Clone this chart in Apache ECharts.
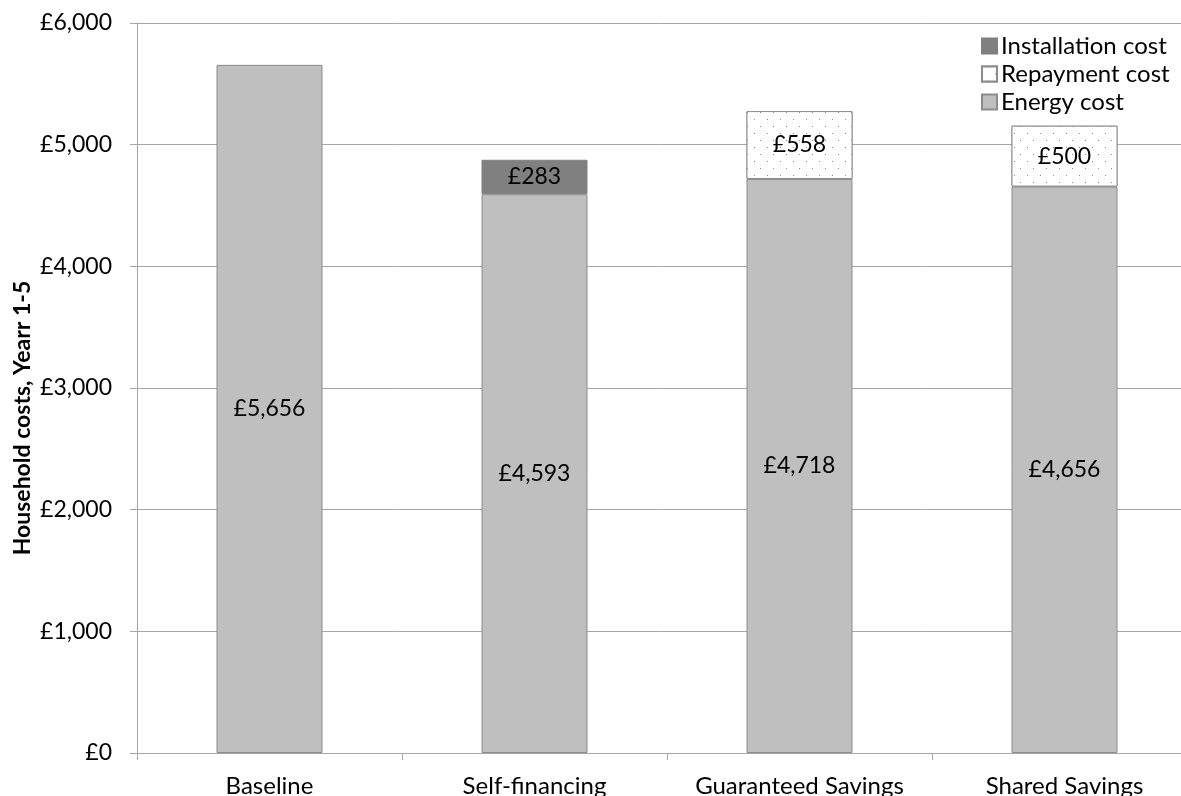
<!DOCTYPE html>
<html>
<head>
<meta charset="utf-8">
<script src="https://cdn.jsdelivr.net/npm/echarts@6/dist/echarts.min.js"></script>
<style>
  html, body { margin: 0; padding: 0; background: #fff; overflow: hidden; }
  #chart { width: 1181px; height: 796px; }
</style>
</head>
<body>
<div id="chart"></div>
<script>
// Household costs over years 1-5 by financing scheme
const categories = ['Baseline', 'Self-financing', 'Guaranteed Savings', 'Shared Savings'];
const energyCost = [5656, 4593, 4718, 4656];
const installationCost = [null, 283, null, null];
const repaymentCost = [null, null, 558, 500];
const yTicks = { min: 0, max: 6000, interval: 1000 };
const yTitle = 'Household costs, Yearr 1-5';

const FONT = 'Lato, "Open Sans", sans-serif';
const fmt = v => '£' + Math.round(v).toLocaleString('en-GB');

const chart = echarts.init(document.getElementById('chart'), null, { renderer: 'canvas' });

const labelStyle = {
  show: true,
  position: 'inside',
  color: '#000',
  fontFamily: FONT,
  fontSize: 23,
  formatter: p => fmt(p.value)
};

chart.setOption({
  animation: false,
  backgroundColor: '#fff',
  // plot area runs past the right edge of the canvas
  grid: { left: 137, top: 23, bottom: 43, width: 1060, containLabel: false, outerBoundsMode: 'none' },
  legend: {
    left: 976,
    top: 29,
    orient: 'vertical',
    itemWidth: 15,
    itemHeight: 15,
    itemGap: 4,
    icon: 'rect',
    data: ['Installation cost', 'Repayment cost', 'Energy cost'],
    textStyle: { fontFamily: FONT, fontSize: 24, color: '#000', padding: [0, 0, 0, -1] }
  },
  graphic: [{
    type: 'text',
    x: 23,
    y: 418,
    rotation: Math.PI / 2,
    style: {
      text: yTitle,
      fontFamily: FONT,
      fontSize: 23,
      fontWeight: 'bold',
      fill: '#000',
      align: 'center',
      verticalAlign: 'middle'
    }
  }],
  xAxis: {
    type: 'category',
    data: categories,
    axisLine: { lineStyle: { color: '#a6a6a6', width: 1 } },
    axisTick: { show: true, length: 7, interval: 0, lineStyle: { color: '#a6a6a6' } },
    axisLabel: { color: '#000', fontFamily: FONT, fontSize: 24, margin: 21, interval: 0, hideOverlap: false }
  },
  yAxis: {
    type: 'value',
    min: yTicks.min,
    max: yTicks.max,
    interval: yTicks.interval,
    axisLine: { show: true, lineStyle: { color: '#a6a6a6', width: 1 } },
    axisTick: { show: true, length: 7, lineStyle: { color: '#a6a6a6' } },
    axisLabel: { color: '#000', fontFamily: FONT, fontSize: 23, margin: 25, formatter: v => fmt(v) },
    splitLine: { lineStyle: { color: '#a6a6a6', width: 1 } }
  },
  series: [
    {
      name: 'Energy cost',
      type: 'bar',
      stack: 'total',
      barWidth: '40%',
      data: energyCost,
      itemStyle: { color: '#bfbfbf', borderColor: '#8c8c8c', borderWidth: 1 },
      label: labelStyle
    },
    {
      name: 'Installation cost',
      type: 'bar',
      stack: 'total',
      data: installationCost,
      itemStyle: { color: '#808080', borderColor: '#808080', borderWidth: 1 },
      label: labelStyle
    },
    {
      name: 'Repayment cost',
      type: 'bar',
      stack: 'total',
      data: repaymentCost,
      itemStyle: {
        color: '#ffffff',
        borderColor: '#8c8c8c',
        borderWidth: 1,
        decal: {
          symbol: 'rect',
          symbolSize: 1,
          color: '#8a8a8a',
          backgroundColor: '#ffffff',
          dashArrayX: [[1, 12], [0, 6, 1, 6]],
          dashArrayY: [1, 6]
        }
      },
      label: labelStyle
    }
  ]
});
</script>
</body>
</html>
